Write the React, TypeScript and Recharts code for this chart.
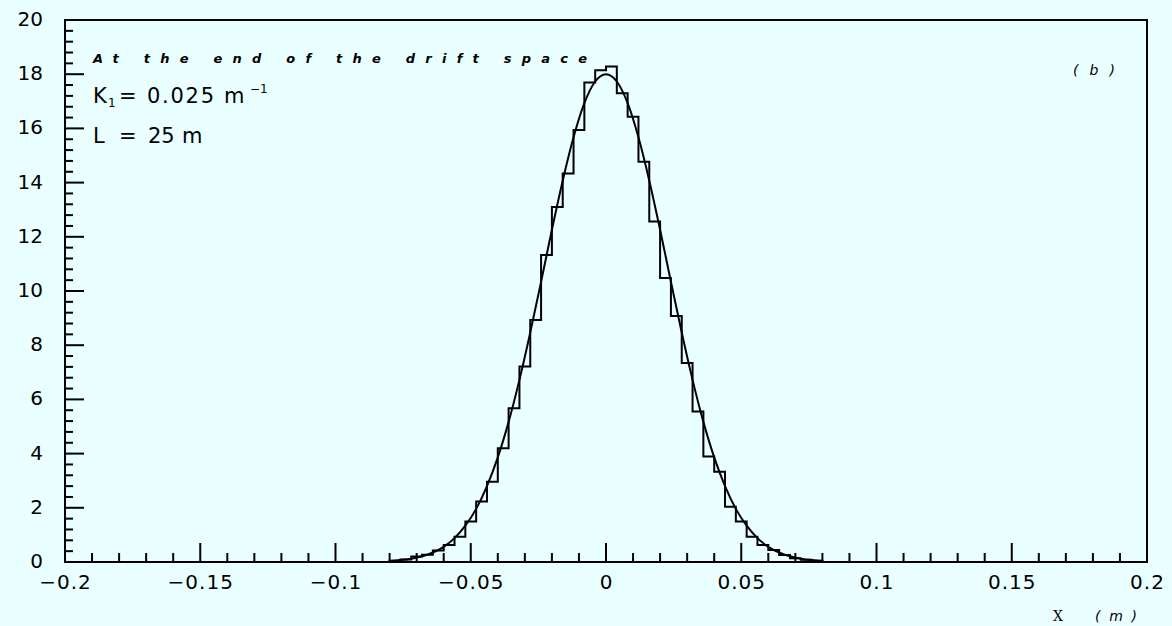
import { ComposedChart, Line, XAxis, YAxis, ReferenceArea } from "recharts";

// histogram bin left edges (bin width 0.004) and contents
const BIN_EDGES = [
  -0.08, -0.076, -0.072, -0.068, -0.064, -0.06, -0.056, -0.052, -0.048, -0.044,
  -0.04, -0.036, -0.032, -0.028, -0.024, -0.02, -0.016, -0.012, -0.008, -0.004,
  0, 0.004, 0.008, 0.012, 0.016, 0.02, 0.024, 0.028, 0.032, 0.036,
  0.04, 0.044, 0.048, 0.052, 0.056, 0.06, 0.064, 0.068, 0.072, 0.076, 0.08,
];
const BIN_COUNTS = [
  0.05, 0.09, 0.2, 0.27, 0.42, 0.63, 0.93, 1.49, 2.23, 2.96,
  4.2, 5.67, 7.21, 8.93, 11.33, 13.1, 14.34, 15.94, 17.69, 18.15,
  18.28, 17.3, 16.43, 14.77, 12.56, 10.48, 9.08, 7.34, 5.55, 3.89,
  3.33, 2.04, 1.49, 0.93, 0.63, 0.44, 0.26, 0.14, 0.08, 0.05,
];
// fitted curve, read at the bin edges
const FIT_Y = [
  0.04, 0.07, 0.12, 0.21, 0.35, 0.56, 0.88, 1.34, 1.96, 2.8,
  3.86, 5.17, 6.72, 8.47, 10.34, 12.26, 14.07, 15.67, 16.93, 17.73,
  18.0, 17.73, 16.93, 15.67, 14.07, 12.26, 10.34, 8.47, 6.72, 5.17,
  3.86, 2.8, 1.96, 1.34, 0.88, 0.56, 0.35, 0.21, 0.12, 0.07, 0.04,
];

const X_MAJOR = [-0.2, -0.15, -0.1, -0.05, 0, 0.05, 0.1, 0.15, 0.2];
const X_LABELS = ["\u22120.2", "\u22120.15", "\u22120.1", "\u22120.05", "0", "0.05", "0.1", "0.15", "0.2"];
const Y_MAJOR = [0, 2, 4, 6, 8, 10, 12, 14, 16, 18, 20];
const Y_LABELS = ["0", "2", "4", "6", "8", "10", "12", "14", "16", "18", "20"];

const xTicks: number[] = [];
for (let k = 0; k <= 40; k++) xTicks.push((k - 20) / 100);
const yTicks: number[] = [];
for (let k = 0; k <= 50; k++) yTicks.push((k * 4) / 10);

const histData = [
  { x: BIN_EDGES[0], y: 0 },
  ...BIN_COUNTS.map((c, i) => ({ x: BIN_EDGES[i], y: c })),
  { x: BIN_EDGES[BIN_EDGES.length - 1], y: 0 },
];
const fitData = FIT_Y.map((v, i) => ({ x: BIN_EDGES[i], y: v }));

const BG = "#eaffff";
const FONT = "'DejaVu Sans', sans-serif";

const near = (a: number, b: number) => Math.abs(a - b) < 1e-9;

const XTick = (props: any) => {
  const { x, y, payload } = props;
  const idx = X_MAJOR.findIndex((m) => near(m, payload.value));
  const major = idx >= 0;
  return (
    <g>
      <line x1={x} x2={x} y1={y} y2={y - (major ? 19 : 9)} stroke="#000" strokeWidth={2} />
      {major && (
        <text x={x + 0.5} y={y + 27} textAnchor="middle" fontSize={20} letterSpacing={1} fontFamily={FONT} fill="#000">
          {X_LABELS[idx]}
        </text>
      )}
    </g>
  );
};

const YTick = (props: any) => {
  const { x, y, payload } = props;
  const idx = Y_MAJOR.findIndex((m) => near(m, payload.value));
  const major = idx >= 0;
  return (
    <g>
      <line x1={x} x2={x + (major ? 19 : 8)} y1={y} y2={y} stroke="#000" strokeWidth={2} />
      {major && (
        <text x={x - 22} y={y + 6} textAnchor="end" fontSize={20} fontFamily={FONT} fill="#000">
          {Y_LABELS[idx]}
        </text>
      )}
    </g>
  );
};

export default function App() {
  return (
    <div style={{ position: "fixed", left: 0, top: 0, width: 1172, height: 626, background: BG }}>
      <ComposedChart width={1172} height={626} margin={{ top: 20, right: 25, left: 5, bottom: 34 }}>
        <XAxis
          type="number"
          dataKey="x"
          domain={[-0.2, 0.2]}
          ticks={xTicks}
          interval={0}
          tick={<XTick />}
          tickSize={0}
          tickMargin={0}
          tickLine={false}
          axisLine={false}
          height={30}
          allowDataOverflow
        />
        <YAxis
          type="number"
          domain={[0, 20]}
          ticks={yTicks}
          interval={0}
          tick={<YTick />}
          tickSize={0}
          tickMargin={0}
          tickLine={false}
          axisLine={false}
          width={60}
          allowDataOverflow
        />
        <ReferenceArea x1={-0.2} x2={0.2} y1={0} y2={20} fill="none" stroke="#000" strokeWidth={2} ifOverflow="visible" />
        <Line
          data={histData}
          dataKey="y"
          type="stepAfter"
          stroke="#000"
          strokeWidth={2}
          dot={false}
          isAnimationActive={false}
        />
        <Line
          data={fitData}
          dataKey="y"
          type="monotone"
          stroke="#000"
          strokeWidth={2}
          dot={false}
          isAnimationActive={false}
        />
      </ComposedChart>
      <svg width={1172} height={626} style={{ position: "absolute", left: 0, top: 0, pointerEvents: "none" }}>
        <text x={93} y={63} fontSize={13} fontStyle="italic" fontWeight="bold" fontFamily={FONT} textLength={494} lengthAdjust="spacing" fill="#000">
          At the end of the drift space
        </text>
        <g fontSize={21} fontFamily={FONT} fill="#000">
          <text x={93} y={103}>K</text>
          <text x={108} y={107} fontSize={12}>1</text>
          <text x={119} y={103}>=</text>
          <text x={147} y={103} textLength={67} lengthAdjust="spacing">0.025</text>
          <text x={224} y={103}>m</text>
          <text x={250} y={93} fontSize={12}>{"\u22121"}</text>
          <text x={93} y={143}>L</text>
          <text x={119} y={143}>=</text>
          <text x={148} y={143}>25</text>
          <text x={182} y={143}>m</text>
        </g>
        <text x={1073} y={75} fontSize={14} fontStyle="italic" fontFamily={FONT} textLength={42} lengthAdjust="spacing" fill="#000">
          (b)
        </text>
        <text x={1053} y={621} fontSize={14} fontFamily="'DejaVu Serif', serif" fill="#000">
          X
        </text>
        <text x={1095} y={621} fontSize={14} fontStyle="italic" fontFamily={FONT} textLength={42} lengthAdjust="spacing" fill="#000">
          (m)
        </text>
      </svg>
    </div>
  );
}
